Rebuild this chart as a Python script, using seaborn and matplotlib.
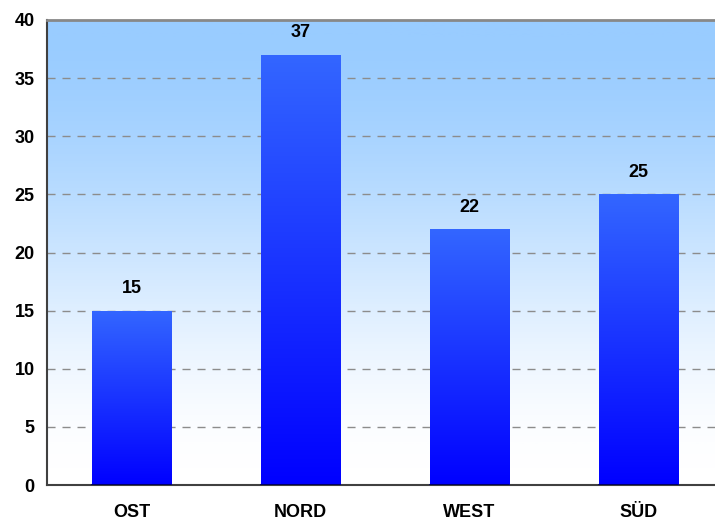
import numpy as np
import pandas as pd
import matplotlib
matplotlib.use("Agg")
import matplotlib.pyplot as plt
import seaborn as sns
from matplotlib.colors import LinearSegmentedColormap

categories = ["OST", "NORD", "WEST", "SÜD"]
values = [15, 37, 22, 25]
yticks = [0, 5, 10, 15, 20, 25, 30, 35, 40]

sns.set_style("white")
plt.rcParams['font.family'] = ['Liberation Sans', 'DejaVu Sans']
plt.rcParams['text.color'] = 'black'
plt.rcParams['xtick.color'] = 'black'
plt.rcParams['ytick.color'] = 'black'

df = pd.DataFrame({"region": categories, "wert": values})

fig = plt.figure(figsize=(7.15, 5.21), dpi=100)
W, H = 715, 521
left, right, top, bottom = 47, 723, 20, 485
ax = fig.add_axes([left / W, 1 - bottom / H, (right - left) / W, (bottom - top) / H])

sns.barplot(data=df, x="region", y="wert", ax=ax, width=0.47, color="#0000ff", zorder=3)

ax.set_ylim(0, 40)
ax.set_xlim(-0.5, len(categories) - 0.5)

# background gradient (eased)
bg_cmap = LinearSegmentedColormap.from_list("bg", ["#ffffff", "#99ccff"])
s = np.linspace(0, 1, 256)
bg_grad = (3 * s**2 - 2 * s**3).reshape(-1, 1)
ax.imshow(bg_grad, aspect="auto", cmap=bg_cmap, origin="lower", vmin=0, vmax=1,
          extent=[0, 1, 0, 1], transform=ax.transAxes, zorder=0)

# bar gradients
grad = s.reshape(-1, 1)
bar_cmap = LinearSegmentedColormap.from_list("bar", ["#0000ff", "#3366ff"])
for p in ax.patches:
    x0, y0 = p.get_x(), p.get_y()
    w, h = p.get_width(), p.get_height()
    im = ax.imshow(grad, aspect="auto", cmap=bar_cmap, origin="lower",
                   extent=[x0, x0 + w, y0, y0 + h], zorder=3)
    im.set_clip_path(p)
    p.set_facecolor("none")
    p.set_edgecolor("none")
    ax.plot([x0, x0 + w], [0, 0], color="#000066", lw=1.5, zorder=4)

for i, v in enumerate(values):
    ax.annotate(str(v), (i, v), xytext=(0, 16), textcoords="offset points",
                ha="center", va="center", fontsize=13, fontweight="bold",
                color="black", zorder=5)

ax.set_xlim(-0.5, len(categories) - 0.5)
ax.set_ylim(0, 40)
ax.set_yticks(yticks)
ax.set_yticklabels([str(t) for t in yticks], fontsize=13, fontweight="bold")
ax.set_xticks(range(len(categories)))
ax.set_xticklabels(categories, fontsize=13, fontweight="bold")
ax.tick_params(axis="x", length=0, pad=14)
ax.set_xticks(np.arange(-0.5, len(categories), 1), minor=True)
ax.tick_params(axis="x", which="minor", length=5, width=1, color="#404040", direction="out")
ax.tick_params(axis="y", length=5, width=1, color="#404040", direction="out", pad=4)

for t in yticks[1:-1]:
    ax.axhline(t, color="#8c8c8c", lw=1, ls=(0, (5.8, 5)), zorder=1)

ax.set_xlabel("")
ax.set_ylabel("")
for sp in ["left", "bottom"]:
    ax.spines[sp].set_color("#404040")
    ax.spines[sp].set_linewidth(1.5)
    ax.spines[sp].set_visible(True)
ax.spines["top"].set_visible(True)
ax.spines["top"].set_color("#888888")
ax.spines["top"].set_linewidth(2)
ax.spines["right"].set_visible(False)
ax.grid(False)

fig.savefig("out.png", dpi=100)
